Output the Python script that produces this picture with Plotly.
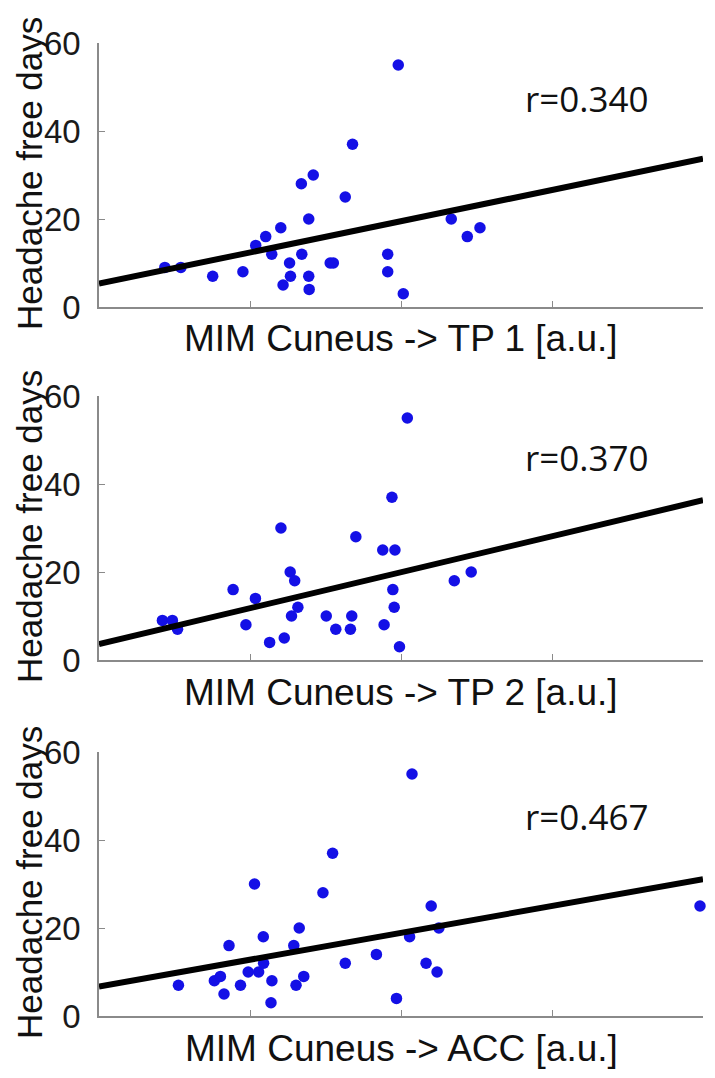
import plotly.graph_objects as go

# ---------------- data ----------------
x_tp1 = [0.436, 0.542, 0.753, 0.953, 1.038, 1.104, 1.144, 1.204, 1.219, 1.262, 1.268, 1.340, 1.343, 1.389,
         1.389, 1.392, 1.419, 1.531, 1.552, 1.631, 1.679, 1.912, 1.912, 1.982, 2.015, 2.333, 2.439, 2.523]
y_tp1 = [9, 9, 7, 8, 14, 16, 12, 18, 5, 10, 7, 28, 12, 20, 7, 4, 30, 10, 10, 25, 37, 12, 8, 55, 3, 20, 16, 18]

x_tp2 = [0.420, 0.486, 0.520, 0.888, 0.973, 1.036, 1.130, 1.205, 1.227, 1.266, 1.275, 1.296, 1.317, 1.505,
         1.568, 1.665, 1.674, 1.701, 1.879, 1.888, 1.940, 1.946, 1.955, 1.960, 1.990, 2.042, 2.353, 2.465]
y_tp2 = [9, 9, 7, 16, 8, 14, 4, 30, 5, 20, 10, 18, 12, 10, 7, 7, 10, 28, 25, 8, 37, 16, 12, 25, 3, 55, 18, 20]

x_acc = [0.526, 0.764, 0.804, 0.828, 0.861, 0.937, 0.988, 1.030, 1.057, 1.088, 1.090, 1.139, 1.145, 1.290,
         1.305, 1.326, 1.356, 1.483, 1.547, 1.631, 1.837, 1.970, 2.057, 2.073, 2.166, 2.200, 2.239, 2.251, 3.980]
y_acc = [7, 8, 9, 5, 16, 7, 10, 30, 10, 18, 12, 3, 8, 16, 7, 20, 9, 28, 37, 12, 14, 4, 18, 55, 12, 25, 10, 20, 25]

fit_x = [0, 4]
fit_tp1 = [5.3, 33.7]
fit_tp2 = [3.6, 36.3]
fit_acc = [6.7, 31.1]

r_labels = ["r=0.340", "r=0.370", "r=0.467"]
r_y = [47.3, 46.0, 45.3]
x_titles = ["MIM Cuneus -> TP 1 [a.u.]", "MIM Cuneus -> TP 2 [a.u.]", "MIM Cuneus -> ACC [a.u.]"]
y_title = "Headache free days"
y_ticks = [0, 20, 40, 60]
x_ticks = [1, 2, 3, 4]

# ---------------- layout helpers ----------------
W, H = 715, 1078
OFF = 8  # page body margin offset
L, R = 99 - OFF, 12 + OFF
panels_px = [(43, 307), (396, 660), (752, 1016)]  # top, bottom pixel rows (screen) of each plot area


def pf(ypix):
    return (H - (ypix - OFF)) / H


def px(xpix):
    return (xpix - OFF - L) / (W - L - R)


fig = go.Figure()
series = [(x_tp1, y_tp1, fit_tp1), (x_tp2, y_tp2, fit_tp2), (x_acc, y_acc, fit_acc)]
font_main = "Liberation Sans, Arial, sans-serif"
axis_col = "#8a8a8a"

for i, (xs, ys, fit) in enumerate(series):
    n = i + 1
    xa = "x" if n == 1 else f"x{n}"
    ya = "y" if n == 1 else f"y{n}"
    fig.add_trace(go.Scatter(x=xs, y=ys, mode="markers", xaxis=xa, yaxis=ya,
                             marker=dict(color="#1410e6", size=11.5, line=dict(width=0)),
                             showlegend=False, cliponaxis=False))
    fig.add_trace(go.Scatter(x=fit_x, y=fit, mode="lines", xaxis=xa, yaxis=ya,
                             line=dict(color="black", width=6), showlegend=False))
    top, bot = panels_px[i]
    xkey = "xaxis" if n == 1 else f"xaxis{n}"
    ykey = "yaxis" if n == 1 else f"yaxis{n}"
    fig.layout[xkey] = dict(domain=[0, 1], anchor=ya, range=[0, 4], tickvals=x_ticks,
                            showticklabels=False, ticks="inside", ticklen=6, tickcolor=axis_col,
                            showline=True, linecolor=axis_col, linewidth=1.5, showgrid=False,
                            zeroline=False, fixedrange=True, automargin=False)
    fig.layout[ykey] = dict(domain=[pf(bot), pf(top)], anchor=xa, range=[0, 60], tickvals=y_ticks,
                            ticks="inside", ticklen=6, tickcolor=axis_col, ticklabelstandoff=10,
                            tickfont=dict(family=font_main, size=33, color="#1a1a1a"),
                            showline=True, linecolor=axis_col, linewidth=1.5, showgrid=False,
                            zeroline=False, fixedrange=True, automargin=False)
    # r value
    fig.add_annotation(x=3.23, y=r_y[i], xref=xa, yref=ya, text=r_labels[i], showarrow=False,
                       xanchor="center", yanchor="middle",
                       font=dict(family="Open Sans, Noto Sans, sans-serif", size=35, color="#111111"))
    # x title
    fig.add_annotation(x=0.5, y=pf(bot + 32), xref="paper", yref="paper",
                       text=x_titles[i], showarrow=False, xanchor="center", yanchor="middle",
                       font=dict(family=font_main, size=37, color="#111111"))
    # y title
    fig.add_annotation(x=px(29), y=pf((top + bot) / 2 - 1), xref="paper", yref="paper",
                       text=y_title, showarrow=False, textangle=-90, xanchor="center", yanchor="middle",
                       font=dict(family=font_main, size=35, color="#111111"))

fig.update_layout(width=W, height=H, margin=dict(l=L, r=R, t=0, b=0, autoexpand=False),
                  plot_bgcolor="white", paper_bgcolor="white", showlegend=False)

fig.write_html("out.html")
